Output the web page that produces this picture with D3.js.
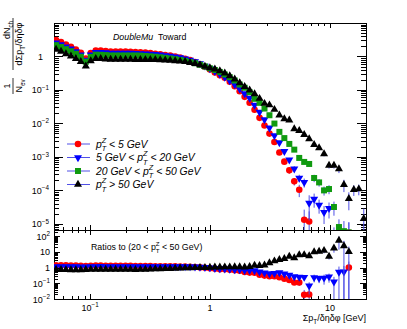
<!DOCTYPE html>
<html>
<head>
<meta charset="utf-8">
<script src="https://cdn.jsdelivr.net/npm/d3@7"></script>
<style>
body { margin: 0; background: #fff; }
text { font-family: "Liberation Sans", Arial, Helvetica, sans-serif; }
</style>
</head>
<body>
<div id="chart"></div>
<script>
// bin centres, sum pT density [GeV]
const xBins = [0.052, 0.0572, 0.0629, 0.0692, 0.0761, 0.0837, 0.0921, 0.1013, 0.1115, 0.1226,
    0.1349, 0.1484, 0.1632, 0.1795, 0.1975, 0.2172, 0.2389, 0.2628, 0.2891, 0.318,
    0.3498, 0.3848, 0.4233, 0.4656, 0.5122, 0.5634, 0.6197, 0.6817, 0.7499, 0.8249,
    0.9074, 0.9981, 1.098, 1.208, 1.328, 1.461, 1.607, 1.768, 1.945, 2.14,
    2.353, 2.589, 2.848, 3.132, 3.446, 3.79, 4.169, 4.586, 5.045, 5.549,
    6.104, 6.715, 7.386, 8.125, 8.937, 9.831, 10.81, 11.9, 13.09, 14.39,
    15.83, 17.42, 19.16];

// pT(Z) < 5 GeV
const ptZ0to5 = [3.08, 2.68, 2.29, 1.95, 1.62, 1.29, 0.871, 1.27, 1.51, 1.51,
    1.46, 1.41, 1.41, 1.41, 1.41, 1.39, 1.36, 1.34, 1.30, 1.26,
    1.21, 1.16, 1.11, 1.06, 1.00, 0.933, 0.859, 0.785, 0.684, 0.584,
    0.492, 0.408, 0.332, 0.275, 0.230, 0.175, 0.129, 0.0914, 0.0621, 0.0411,
    0.0254, 0.0146, 0.00859, 0.00495, 0.00279, 0.00135, 7.18e-4, 3.94e-4, 1.85e-4, 1.04e-4,
    1.32e-5, 1.17e-5, null, null, null, null, null, null, null, 5.5e-6,
    null, null, null];
// 5 < pT(Z) < 20 GeV
const ptZ5to20 = [2.57, 2.26, 1.95, 1.68, 1.41, 1.12, 0.775, 1.12, 1.34, 1.34,
    1.30, 1.27, 1.27, 1.27, 1.27, 1.26, 1.25, 1.23, 1.20, 1.18,
    1.15, 1.11, 1.07, 1.03, 0.980, 0.921, 0.854, 0.780, 0.698, 0.609,
    0.520, 0.437, 0.360, 0.299, 0.243, 0.191, 0.145, 0.108, 0.0780, 0.0572,
    0.0353, 0.0218, 0.0130, 0.00733, 0.00431, 0.00266, 0.00146, 8.07e-4, 4.37e-4, 2.33e-4,
    1.72e-4, 4.17e-5, 5.49e-5, 3.63e-5, 2.18e-5, 2.87e-5, 3.9e-6, 4.2e-6, 3.2e-6, null,
    null, null, null];
// 20 < pT(Z) < 50 GeV (reference for the ratios)
const ptZ20to50 = [2.18, 1.92, 1.65, 1.43, 1.20, 0.980, 0.694, 0.966, 1.13, 1.12,
    1.10, 1.07, 1.07, 1.07, 1.07, 1.07, 1.07, 1.06, 1.03, 1.01,
    0.980, 0.946, 0.908, 0.871, 0.830, 0.786, 0.738, 0.684, 0.626, 0.564,
    0.502, 0.443, 0.394, 0.344, 0.289, 0.240, 0.191, 0.145, 0.116, 0.0853,
    0.0542, 0.0411, 0.0277, 0.0175, 0.00987, 0.00557, 0.00363, 0.00243, 0.00164, 9.27e-4,
    7.04e-4, 6.12e-4, 2.33e-4, 1.72e-4, 9.93e-5, 1.09e-4, 3.16e-5, 7.97e-6, 6.0e-6, 5.5e-6,
    null, null, null];
// pT(Z) > 50 GeV
const ptZ50up = [1.62, 1.41, 1.20, 1.02, 0.854, 0.694, 0.512, 0.733, 0.854, 0.854,
    0.836, 0.813, 0.813, 0.813, 0.813, 0.813, 0.802, 0.802, 0.802, 0.802,
    0.802, 0.791, 0.775, 0.759, 0.738, 0.718, 0.694, 0.655, 0.610, 0.560,
    0.505, 0.455, 0.415, 0.370, 0.315, 0.261, 0.209, 0.163, 0.126, 0.0980,
    0.0754, 0.0553, 0.0392, 0.0353, 0.0259, 0.0177, 0.0135, 0.0124, 0.00684, 0.00608,
    0.00462, 0.00344, 0.00232, 0.00185, 0.00122, 5.57e-4, 5.57e-4, 4.35e-4, 1.47e-4, 5.61e-5,
    1.04e-4, 1.09e-4, 1.41e-5];

// relative stat. errors where they show (bin index -> rel. error)
const err0to5 = {45: 0.12, 46: 0.15, 47: 0.2, 48: 0.25, 49: 0.4, 50: 1.0, 51: 1.0, 59: 1.0};
const err5to20 = {46: 0.12, 47: 0.15, 48: 0.2, 49: 0.25, 50: 0.3, 51: 0.7, 52: 0.45, 53: 0.45, 54: 0.55, 55: 0.5, 56: 1.0, 57: 1.0, 58: 1.0};
const err20to50 = {50: 0.15, 51: 0.15, 52: 0.25, 53: 0.25, 54: 0.3, 55: 0.3, 56: 0.45, 57: 0.7, 58: 1.0, 59: 1.0};
const err50up = {53: 0.12, 54: 0.15, 55: 0.2, 56: 0.2, 57: 0.25, 58: 0.4, 59: 0.55, 60: 0.35, 61: 0.35, 62: 1.0};
const errDefault = 0.02;

const legendBefore = ["", "5 GeV < ", "20 GeV < ", ""];
const legendAfter = [" < 5 GeV", " < 20 GeV", " < 50 GeV", " > 50 GeV"];

const xTickLabels = [-1, 0, 1];          // exponents
const yTopTickLabels = [-5, -4, -3, -2, -1, 0];
const yRatioTickLabels = [-2, -1, 0, 1, 2];

const series = [
    { vals: ptZ0to5, err: err0to5, color: "#ff0000", sym: d3.symbolCircle, size: 34, rot: 0 },
    { vals: ptZ5to20, err: err5to20, color: "#0000ff", sym: d3.symbolTriangle, size: 28, rot: 180 },
    { vals: ptZ20to50, err: err20to50, color: "#109a10", sym: d3.symbolSquare, size: 36, rot: 0 },
    { vals: ptZ50up, err: err50up, color: "#000000", sym: d3.symbolTriangle, size: 28, rot: 0 }
];
const errColor = "#5050e6";

const W = 407, H = 329;
const left = 54, right = 366, topY = 23, midY = 230, botY = 299;

const svg = d3.select("#chart").append("svg")
    .attr("width", W)
    .attr("height", H);

const x = d3.scaleLog().domain([0.05, 20]).range([left, right]);
const yTop = d3.scaleLog().domain([6.5e-6, 10]).range([midY, topY]);
const yRat = d3.scaleLog().domain([0.01, 250]).range([botY, midY]);

// clip paths
const defs = svg.append("defs");
defs.append("clipPath").attr("id", "clipTop").append("rect")
    .attr("x", left).attr("y", topY).attr("width", right - left).attr("height", midY - topY);
defs.append("clipPath").attr("id", "clipRat").append("rect")
    .attr("x", left).attr("y", midY).attr("width", right - left).attr("height", botY - midY);

// log tick helpers
function majors(lo, hi) {
    const out = [];
    for (let e = Math.floor(Math.log10(lo)); e <= Math.ceil(Math.log10(hi)); e++) {
        const v = Math.pow(10, e);
        if (v >= lo * 0.999 && v <= hi * 1.001) out.push(v);
    }
    return out;
}
function minors(lo, hi) {
    const out = [];
    for (let e = Math.floor(Math.log10(lo)); e <= Math.ceil(Math.log10(hi)); e++) {
        for (let m = 2; m <= 9; m++) {
            const v = m * Math.pow(10, e);
            if (v >= lo && v <= hi) out.push(v);
        }
    }
    return out;
}

function tickAxis(axisFn, scale, vals, size, tx, ty) {
    svg.append("g")
        .attr("transform", `translate(${tx},${ty})`)
        .call(axisFn(scale).tickValues(vals).tickSize(size).tickSizeOuter(0).tickFormat(""))
        .call(g => g.select(".domain").remove())
        .selectAll("line")
        .attr("stroke", "#000")
        .attr("shape-rendering", "crispEdges");
}

// top panel ticks
tickAxis(d3.axisLeft, yTop, majors(6.5e-6, 10), -9, left, 0);
tickAxis(d3.axisLeft, yTop, minors(6.5e-6, 10), -5, left, 0);
tickAxis(d3.axisRight, yTop, majors(6.5e-6, 10), -9, right, 0);
tickAxis(d3.axisRight, yTop, minors(6.5e-6, 10), -5, right, 0);
tickAxis(d3.axisTop, x, majors(0.05, 20), -5, 0, topY);
tickAxis(d3.axisTop, x, minors(0.05, 20), -3, 0, topY);
tickAxis(d3.axisBottom, x, majors(0.05, 20), -5, 0, midY);
tickAxis(d3.axisBottom, x, minors(0.05, 20), -3, 0, midY);
// ratio panel ticks
tickAxis(d3.axisLeft, yRat, majors(0.01, 250), -6, left, 0);
tickAxis(d3.axisLeft, yRat, minors(0.01, 250), -3.5, left, 0);
tickAxis(d3.axisRight, yRat, majors(0.01, 250), -6, right, 0);
tickAxis(d3.axisRight, yRat, minors(0.01, 250), -3.5, right, 0);
tickAxis(d3.axisTop, x, majors(0.05, 20), -5, 0, midY);
tickAxis(d3.axisTop, x, minors(0.05, 20), -3, 0, midY);
tickAxis(d3.axisBottom, x, majors(0.05, 20), -5, 0, botY);
tickAxis(d3.axisBottom, x, minors(0.05, 20), -3, 0, botY);

// frames
[[topY, midY], [midY, botY]].forEach(r => {
    svg.append("rect")
        .attr("x", left).attr("y", r[0])
        .attr("width", right - left).attr("height", r[1] - r[0])
        .attr("fill", "none").attr("stroke", "#000").attr("stroke-width", 1)
        .attr("shape-rendering", "crispEdges");
});

// power-of-ten label
function powLabel(sel, e, fs) {
    if (e === 0) { sel.text("1"); return; }
    if (e === 1) { sel.text("10"); return; }
    sel.append("tspan").text("10");
    sel.append("tspan").attr("font-size", fs * 0.7).attr("dy", -fs * 0.4).text(e < 0 ? "\u2212" + (-e) : e);
}

const fsTick = 9;
yTopTickLabels.forEach(e => {
    const t = svg.append("text")
        .attr("x", e === 0 ? 43 : 49)
        .attr("y", yTop(Math.pow(10, e)) + 3.5)
        .attr("text-anchor", "end")
        .attr("font-size", fsTick);
    powLabel(t, e, fsTick);
});
yRatioTickLabels.forEach(e => {
    const t = svg.append("text")
        .attr("x", 50)
        .attr("y", yRat(Math.pow(10, e)) + 3.5)
        .attr("text-anchor", "end")
        .attr("font-size", fsTick);
    powLabel(t, e, fsTick);
});
xTickLabels.forEach(e => {
    const t = svg.append("text")
        .attr("x", x(Math.pow(10, e)))
        .attr("y", 311)
        .attr("text-anchor", "middle")
        .attr("font-size", fsTick);
    powLabel(t, e, fsTick);
});

// x axis title
const xt = svg.append("text")
    .attr("x", right).attr("y", 321)
    .attr("text-anchor", "end")
    .attr("font-size", 9);
xt.append("tspan").text("\u03A3p");
xt.append("tspan").attr("font-size", 6.3).attr("dy", 2.5).text("T");
xt.append("tspan").attr("dy", -2.5).text("/\u03B4\u03B7\u03B4\u03C6 [GeV]");

// y axis title (rotated fractions)
const yt = svg.append("g").attr("transform", "rotate(-90)").attr("font-size", 9);
yt.append("text").attr("x", -86).attr("y", 10).attr("text-anchor", "middle").text("1");
yt.append("line").attr("x1", -94).attr("x2", -78).attr("y1", 13).attr("y2", 13)
    .attr("stroke", "#000").attr("stroke-width", 0.8);
const nev = yt.append("text").attr("x", -86).attr("y", 22).attr("text-anchor", "middle");
nev.append("tspan").text("N");
nev.append("tspan").attr("font-size", 6.3).attr("dy", 2.5).text("ev");
const dn = yt.append("text").attr("x", -30).attr("y", 10).attr("text-anchor", "middle");
dn.append("tspan").text("dN");
dn.append("tspan").attr("font-size", 6.3).attr("dy", 2.5).text("ch");
yt.append("line").attr("x1", -70).attr("x2", -18).attr("y1", 13).attr("y2", 13)
    .attr("stroke", "#000").attr("stroke-width", 0.8);
const den = yt.append("text").attr("x", -44).attr("y", 22).attr("text-anchor", "middle");
den.append("tspan").text("d\u03A3p");
den.append("tspan").attr("font-size", 6.3).attr("dy", 2.5).text("T");
den.append("tspan").attr("dy", -2.5).text("/\u03B4\u03B7\u03B4\u03C6");

// p_T^Z with stacked sub/superscript
function addPtZ(t, fs) {
    t.append("tspan").text("p");
    t.append("tspan").attr("font-size", fs * 0.7).attr("dy", -fs * 0.45).text("Z");
    t.append("tspan").attr("font-size", fs * 0.7).attr("dx", -fs * 0.7 * 0.611).attr("dy", fs * 0.8).text("T");
}

// DoubleMu Toward
const tag = svg.append("text").attr("x", 113).attr("y", 40).attr("font-size", 8.8);
tag.append("tspan").attr("font-style", "italic").text("DoubleMu");
tag.append("tspan").text("\u00A0\u00A0Toward");

// ratio panel caption
const rc = svg.append("text").attr("x", 91).attr("y", 250).attr("font-size", 8.8);
rc.append("tspan").text("Ratios to (20 < ");
addPtZ(rc, 8.8);
rc.append("tspan").attr("dy", -8.8 * 0.35).text(" < 50 GeV)");

// draw a set of points with error bars
function drawPoints(g, pts, yScale, s) {
    const lo = yScale.domain()[0] * 0.5;
    g.selectAll(null)
        .data(pts)
        .enter().append("line")
        .attr("x1", d => x(d.x)).attr("x2", d => x(d.x))
        .attr("y1", d => yScale(d.y * (1 + d.e)))
        .attr("y2", d => yScale(Math.max(d.y * (1 - d.e), lo)))
        .attr("stroke", errColor)
        .attr("stroke-width", 1);
    g.selectAll(null)
        .data(pts)
        .enter().append("path")
        .attr("d", d3.symbol().type(s.sym).size(s.size))
        .attr("transform", d => `translate(${x(d.x)},${yScale(d.y)}) rotate(${s.rot})`)
        .attr("fill", s.color);
}

const gTop = svg.append("g").attr("clip-path", "url(#clipTop)");
const gRat = svg.append("g").attr("clip-path", "url(#clipRat)");

series.forEach((s, i) => {
    const pts = [];
    s.vals.forEach((v, k) => {
        if (v != null) pts.push({ x: xBins[k], y: v, e: s.err[k] != null ? s.err[k] : errDefault });
    });
    drawPoints(gTop.append("g"), pts, yTop, s);

    if (i === 2) return; // reference sample is not drawn in the ratio
    const rpts = [];
    s.vals.forEach((v, k) => {
        const ref = ptZ20to50[k];
        if (v != null && ref != null) {
            const es = s.err[k] != null ? s.err[k] : errDefault;
            const eg = err20to50[k] != null ? err20to50[k] : errDefault;
            rpts.push({ x: xBins[k], y: v / ref, e: Math.sqrt(es * es + eg * eg) });
        }
    });
    drawPoints(gRat.append("g"), rpts, yRat, s);
});

// legend
const legY = [144, 157.5, 171, 184.5];
const fsLeg = 10.4;
series.forEach((s, i) => {
    const lg = svg.append("g").attr("transform", `translate(0,${legY[i]})`);
    lg.append("line").attr("x1", 67).attr("x2", 90).attr("y1", 0).attr("y2", 0)
        .attr("stroke", errColor).attr("stroke-width", 1);
    lg.append("path")
        .attr("d", d3.symbol().type(s.sym).size(s.size))
        .attr("transform", `translate(78,0) rotate(${s.rot})`)
        .attr("fill", s.color);
    const t = lg.append("text").attr("x", 96).attr("y", 3.5)
        .attr("font-size", fsLeg).attr("font-style", "italic");
    if (legendBefore[i]) t.append("tspan").text(legendBefore[i]);
    addPtZ(t, fsLeg);
    t.append("tspan").attr("dy", -fsLeg * 0.35).text(legendAfter[i]);
});
</script>
</body>
</html>
